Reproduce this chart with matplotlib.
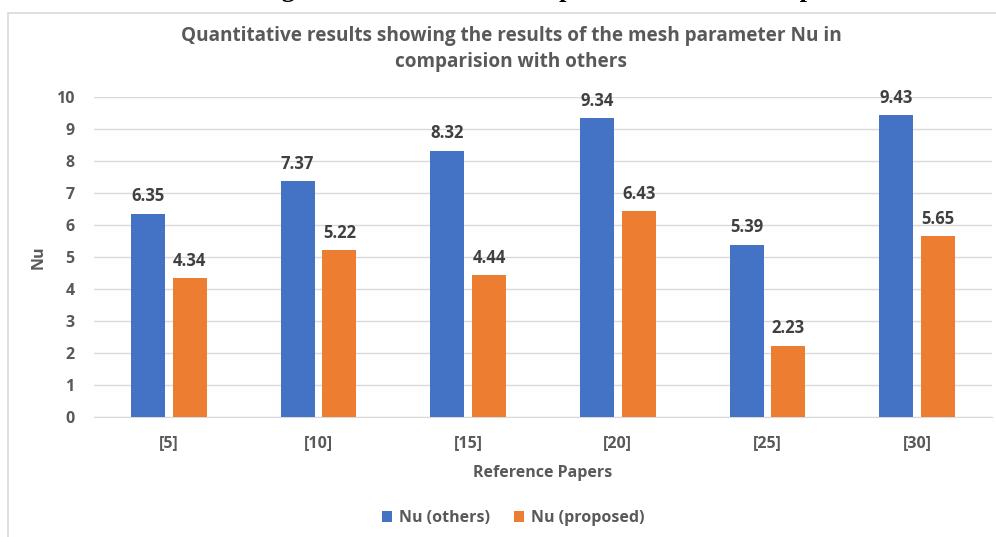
import matplotlib
matplotlib.use("Agg")
import matplotlib.pyplot as plt
from matplotlib.patches import Rectangle
import numpy as np

categories = ["[5]", "[10]", "[15]", "[20]", "[25]", "[30]"]
nu_others = [6.35, 7.37, 8.32, 9.34, 5.39, 9.43]
nu_proposed = [4.34, 5.22, 4.44, 6.43, 2.23, 5.65]
series_names = ["Nu (others)", "Nu (proposed)"]
yticks = list(range(0, 11))

title = "Quantitative results showing the results of the mesh parameter Nu in\ncomparision with others"
caption = "Quantitative results showing the results of the mesh parameter Nu in comparision with others"

BLUE = "#4472C4"
ORANGE = "#ED7D31"
TXT = "#595959"
LBL = "#404040"
FONT = ["Open Sans", "DejaVu Sans"]

plt.rcParams["font.family"] = FONT
plt.rcParams["font.weight"] = "bold"

W, H = 996, 537
fig = plt.figure(figsize=(W / 100, H / 100), dpi=100)

# caption line of the surrounding document, clipped by the top edge
fig.text(-27 / W, 1 + 2.5 / H, caption, family=["Liberation Serif"], weight="bold",
         fontsize=19, color="black", ha="left", va="baseline")

# chart frame
fig.patches.append(Rectangle((7.5 / W, -0.1), 1.2, 1 - 12.5 / H + 0.1,
                             transform=fig.transFigure, fill=False,
                             edgecolor="#D9D9D9", linewidth=1.2))

ax = fig.add_axes([94 / W, 1 - 417 / H, 898 / W, 320 / H])
x = np.arange(len(categories))
bw = 0.227
off = (bw + 0.053) / 2
b1 = ax.bar(x - off, nu_others, bw, color=BLUE, label=series_names[0], zorder=3)
b2 = ax.bar(x + off, nu_proposed, bw, color=ORANGE, label=series_names[1], zorder=3)

for bars, vals in ((b1, nu_others), (b2, nu_proposed)):
    for r, v in zip(bars, vals):
        ax.annotate(f"{v:.2f}", (r.get_x() + r.get_width() / 2, v),
                    xytext=(0, 6), textcoords="offset points", ha="center",
                    va="bottom", fontsize=12, weight="bold", color=LBL)

ax.set_xlim(-0.5, len(categories) - 0.5)
ax.set_ylim(0, 10)
ax.set_yticks(yticks)
ax.set_xticks(x)
ax.set_xticklabels(categories)
ax.grid(axis="y", color="#D9D9D9", linewidth=1.0, zorder=0)
for s in ("top", "right", "left"):
    ax.spines[s].set_visible(False)
ax.spines["bottom"].set_color("#D9D9D9")
ax.tick_params(length=0, labelsize=11.5, labelcolor=TXT)
ax.tick_params(axis="y", pad=14)
ax.tick_params(axis="x", pad=13)

ax.set_xlabel("Reference Papers", weight="bold", color=TXT,
              fontsize=11.5, labelpad=10)
ax.set_ylabel("Nu", weight="bold", color=TXT, fontsize=11.5, labelpad=7)

fig.text(511 / W, 1 - 49 / H, title, ha="center", va="center",
         weight="bold", color=TXT, fontsize=13.7, linespacing=1.4)

fig.legend(handles=[b1, b2], labels=series_names, loc="center",
           bbox_to_anchor=(513 / W, 1 - 518 / H), ncol=2, frameon=False,
           prop={"weight": "bold", "size": 11.5},
           handlelength=0.65, handleheight=0.65, handletextpad=0.4,
           columnspacing=1.5, labelcolor=TXT)

fig.savefig("out.png", dpi=100)
